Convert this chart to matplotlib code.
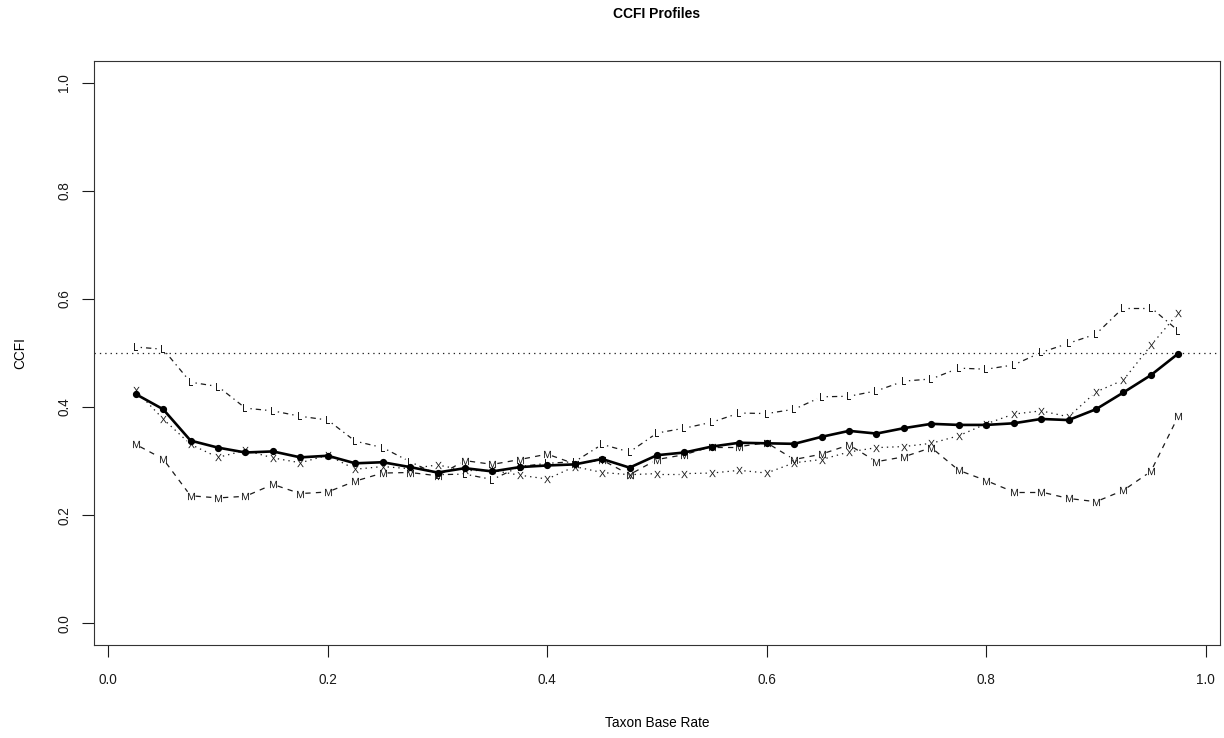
import numpy as np
import matplotlib
matplotlib.use("Agg")
import matplotlib.pyplot as plt

# base rates 0.025 .. 0.975
base_rate = [0.025, 0.05, 0.075, 0.1, 0.125, 0.15, 0.175, 0.2, 0.225, 0.25,
             0.275, 0.3, 0.325, 0.35, 0.375, 0.4, 0.425, 0.45, 0.475, 0.5,
             0.525, 0.55, 0.575, 0.6, 0.625, 0.65, 0.675, 0.7, 0.725, 0.75,
             0.775, 0.8, 0.825, 0.85, 0.875, 0.9, 0.925, 0.95, 0.975]

ccfi_mean = [0.424, 0.396, 0.338, 0.325, 0.316, 0.318, 0.307, 0.310, 0.296, 0.298,
             0.289, 0.279, 0.287, 0.281, 0.289, 0.292, 0.294, 0.304, 0.288, 0.311,
             0.316, 0.327, 0.334, 0.333, 0.332, 0.345, 0.356, 0.351, 0.361, 0.369,
             0.367, 0.367, 0.370, 0.378, 0.376, 0.396, 0.427, 0.459, 0.499]

ccfi_L = [0.511, 0.507, 0.446, 0.438, 0.398, 0.393, 0.383, 0.376, 0.337, 0.325,
          0.299, 0.275, 0.276, 0.266, 0.290, 0.296, 0.299, 0.331, 0.317, 0.352,
          0.361, 0.372, 0.389, 0.388, 0.396, 0.419, 0.420, 0.430, 0.448, 0.452,
          0.472, 0.470, 0.478, 0.501, 0.518, 0.535, 0.584, 0.584, 0.541]

ccfi_M = [0.331, 0.304, 0.236, 0.232, 0.235, 0.257, 0.240, 0.243, 0.263, 0.278,
          0.279, 0.273, 0.301, 0.294, 0.303, 0.313, 0.295, 0.302, 0.275, 0.303,
          0.312, 0.327, 0.327, 0.334, 0.303, 0.313, 0.330, 0.299, 0.308, 0.325,
          0.283, 0.264, 0.243, 0.243, 0.231, 0.225, 0.246, 0.281, 0.383]

ccfi_X = [0.431, 0.378, 0.331, 0.307, 0.320, 0.306, 0.297, 0.311, 0.285, 0.290,
          0.286, 0.293, 0.283, 0.283, 0.274, 0.267, 0.290, 0.279, 0.275, 0.277,
          0.277, 0.278, 0.283, 0.278, 0.297, 0.303, 0.317, 0.325, 0.327, 0.333,
          0.347, 0.369, 0.387, 0.393, 0.382, 0.428, 0.450, 0.514, 0.574]

cut_point = 0.5
x_ticks = [0.0, 0.2, 0.4, 0.6, 0.8, 1.0]
y_ticks = [0.0, 0.2, 0.4, 0.6, 0.8, 1.0]

plt.rcParams['font.family'] = ['Liberation Sans', 'DejaVu Sans']
plt.rcParams['mathtext.fontset'] = 'custom'
plt.rcParams['mathtext.rm'] = 'Liberation Sans'
plt.rcParams['lines.scale_dashes'] = False

fig = plt.figure(figsize=(12.24, 7.38), dpi=100)
ax = fig.add_axes([94 / 1224, 93 / 738, 1126 / 1224, 584 / 738])
ax.set_xlim(-0.013, 1.013)
ax.set_ylim(-0.04, 1.04)

# R-like line types (in points)
dash = (0, (3.8, 3.8))
dots = (0, (0.96, 2.9))
dotdash = (0, (0.96, 2.9, 3.8, 2.9))


def plot_type_b(xs, ys, letter, ls, gap=5.0):
    # like R type="b": segments stop short of the point symbols
    pts = ax.transData.transform(np.column_stack([xs, ys]))
    inv = ax.transData.inverted()
    for p0, p1 in zip(pts[:-1], pts[1:]):
        d = p1 - p0
        n = np.hypot(*d)
        if n <= 2 * gap:
            continue
        u = d / n
        seg = inv.transform(np.array([p0 + u * gap, p1 - u * gap]))
        ax.plot(seg[:, 0], seg[:, 1], color='#1a1a1a', lw=0.9, linestyle=ls)
    ax.plot(xs, ys, linestyle='none', marker=r'$\mathrm{%s}$' % letter,
            markersize=5.2, mew=0, mfc='#1a1a1a')


ax.axhline(cut_point, color='#222222', lw=0.9, linestyle=dots)

plot_type_b(base_rate, ccfi_L, 'L', dotdash)
plot_type_b(base_rate, ccfi_M, 'M', dash)
plot_type_b(base_rate, ccfi_X, 'X', dots)

ax.plot(base_rate, ccfi_mean, color='black', lw=1.9, marker='o',
        markersize=4.2, zorder=5)

ax.set_xticks(x_ticks)
ax.set_yticks(y_ticks)
ax.set_xticklabels(['%.1f' % t for t in x_ticks])
ax.set_yticklabels(['%.1f' % t for t in y_ticks])
ax.tick_params(axis='both', direction='out', length=8.3, width=0.8,
               labelsize=9.8, colors='#1a1a1a')
ax.tick_params(axis='x', pad=12)
ax.tick_params(axis='y', pad=8)
plt.setp(ax.get_yticklabels(), rotation=90, va='center')
for s in ax.spines.values():
    s.set_linewidth(0.8)
    s.set_color('#333333')

ax.set_xlabel('Taxon Base Rate', fontsize=9.8, labelpad=21)
ax.set_ylabel('CCFI', fontsize=9.8, labelpad=22)
fig.text(657 / 1224, 1 - 14 / 738, 'CCFI Profiles', ha='center', va='center',
         fontsize=10, fontweight='bold')

fig.savefig('out.png', dpi=100)
